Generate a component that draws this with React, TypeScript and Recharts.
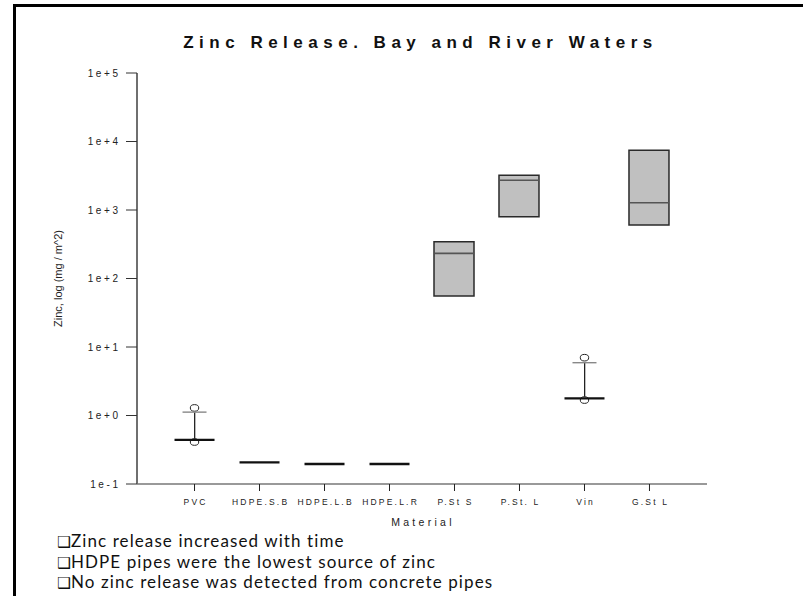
import React from 'react';
import { ComposedChart, Bar, Scatter, XAxis, YAxis, Label } from 'recharts';

// ---- data ----
const categories = ['PVC', 'HDPE.S.B', 'HDPE.L.B', 'HDPE.L.R', 'P.St S', 'P.St. L', 'Vin', 'G.St L'];
const positions = [1, 2, 3, 4, 5, 6, 7, 8];
const boxLow: (number | null)[] = [null, null, null, null, 55.6, 798, null, 604];
const boxHigh: (number | null)[] = [null, null, null, null, 344, 3214, null, 7430];
const medians = [0.44, 0.207, 0.196, 0.196, 233, 2716, 1.78, 1279];
const whiskerHigh: (number | null)[] = [1.12, null, null, null, null, null, 5.9, null];
const outlierHigh: (number | null)[] = [1.29, null, null, null, null, null, 6.98, null];
const outlierLow: (number | null)[] = [0.41, null, null, null, null, null, 1.68, null];
const yTicks = [0.1, 1, 10, 100, 1000, 10000, 100000];
const yTickLabels = ['1e-1', '1e+0', '1e+1', '1e+2', '1e+3', '1e+4', '1e+5'];
const title = 'Zinc Release. Bay and River Waters';
const xTitle = 'Material';
const yTitle = 'Zinc, log (mg / m^2)';
const bullets = [
  'Zinc release increased with time',
  'HDPE pipes were the lowest source of zinc',
  'No zinc release was detected from concrete pipes',
];

const rows = positions.map((x, i) => ({
  x,
  name: categories[i],
  box: boxLow[i] != null && boxHigh[i] != null ? [boxLow[i], boxHigh[i]] : null,
  stem: whiskerHigh[i] != null ? [medians[i], whiskerHigh[i]] : null,
  median: medians[i],
  hasBox: boxLow[i] != null,
  cap: whiskerHigh[i],
  outHi: outlierHigh[i],
  outLo: outlierLow[i],
}));

const capRows = rows.filter((r) => r.cap != null);
const outHiRows = rows.filter((r) => r.outHi != null);
const outLoRows = rows.filter((r) => r.outLo != null);

const X_DOMAIN: [number, number] = [0.115, 8.885];
const Y_DOMAIN: [number, number] = [0.1, 100000];
const FONT = '"Liberation Sans", Arial, sans-serif';

const YTick = (props: any) => {
  const { x, y, payload } = props;
  const idx = yTicks.indexOf(payload.value);
  const label = idx >= 0 ? yTickLabels[idx] : String(payload.value);
  return (
    <text x={x + 2.6} y={y} dy="0.35em" textAnchor="end" fontSize={10} fontFamily={FONT} fill="#222" letterSpacing={2.6}>
      {label}
    </text>
  );
};

const XTick = (props: any) => {
  const { x, y, payload } = props;
  const idx = positions.indexOf(payload.value);
  const label = idx >= 0 ? categories[idx] : '';
  return (
    <text x={x + 1.1} y={y} dy="0.71em" textAnchor="middle" fontSize={8.5} fontFamily={FONT} fill="#222" letterSpacing={2.2}>
      {label}
    </text>
  );
};

const MedianShape = (props: any) => {
  const { cx, cy, payload } = props;
  if (cx == null || cy == null) return null;
  if (payload.hasBox) {
    return <line x1={cx - 19.5} x2={cx + 19.5} y1={cy} y2={cy} stroke="#555" strokeWidth={1.6} />;
  }
  return <line x1={cx - 20} x2={cx + 20} y1={cy} y2={cy} stroke="#111" strokeWidth={2.4} />;
};

const CapShape = (props: any) => {
  const { cx, cy } = props;
  if (cx == null || cy == null) return null;
  return <line x1={cx - 12} x2={cx + 12} y1={cy} y2={cy} stroke="#888" strokeWidth={1.4} />;
};

const OutlierShape = (props: any) => {
  const { cx, cy } = props;
  if (cx == null || cy == null) return null;
  return <ellipse cx={cx} cy={cy} rx={4.2} ry={3.3} fill="#fff" stroke="#222" strokeWidth={1} />;
};

const YTitle = (props: any) => {
  const { viewBox } = props;
  const cx = viewBox.x + 38;
  const cy = viewBox.y + viewBox.height / 2;
  return (
    <text x={cx} y={cy} transform={`rotate(-90 ${cx} ${cy})`} textAnchor="middle" dy="0.35em" fontSize={11} fontFamily={FONT} fill="#222">
      {yTitle}
    </text>
  );
};

const XTitle = (props: any) => {
  const { viewBox } = props;
  const cx = viewBox.x + viewBox.width / 2 + 1;
  return (
    <text x={cx} y={viewBox.y + 42} textAnchor="middle" fontSize={10.5} fontFamily={FONT} fill="#222" letterSpacing={3.3}>
      {xTitle}
    </text>
  );
};

export default function App() {
  return (
    <div style={{ position: 'absolute', left: 0, top: 0, width: 803, height: 596, background: '#fff', overflow: 'hidden' }}>
      <div style={{ position: 'absolute', left: 13, top: 4, width: 790, height: 3, background: '#000' }} />
      <div style={{ position: 'absolute', left: 13, top: 4, width: 3, height: 592, background: '#000' }} />
      <div
        style={{
          position: 'absolute',
          left: 0,
          top: 33,
          width: 836,
          textAlign: 'center',
          fontFamily: FONT,
          fontWeight: 'bold',
          fontSize: 17,
          lineHeight: '20px',
          letterSpacing: 5.5,
          color: '#111',
          paddingLeft: 5,
          boxSizing: 'border-box',
        }}
      >
        {title}
      </div>
      <div style={{ position: 'absolute', left: 0, top: 0 }}>
        <ComposedChart
          width={803}
          height={596}
          data={rows}
          margin={{ top: 73, right: 96, bottom: 72, left: 20 }}
        >
          <XAxis
            xAxisId="main"
            dataKey="x"
            type="number"
            domain={X_DOMAIN}
            ticks={positions}
            allowDataOverflow
            height={40}
            tick={<XTick />}
            tickSize={7}
            tickMargin={8}
            tickLine={{ stroke: '#222', strokeWidth: 1 }}
            axisLine={{ stroke: '#777', strokeWidth: 1.6 }}
            interval={0}
          >
            <Label content={<XTitle />} />
          </XAxis>
          <XAxis xAxisId="whisk" dataKey="x" type="number" domain={X_DOMAIN} allowDataOverflow hide />
          <XAxis
            xAxisId="top"
            orientation="top"
            dataKey="x"
            type="number"
            domain={X_DOMAIN}
            allowDataOverflow
            height={0}
            tick={false}
            tickLine={false}
            axisLine={{ stroke: '#222', strokeWidth: 1.5 }}
          />
          <YAxis
            yAxisId="left"
            scale="log"
            type="number"
            domain={Y_DOMAIN}
            ticks={yTicks}
            allowDataOverflow
            width={117}
            tick={<YTick />}
            tickSize={11}
            tickMargin={8}
            tickLine={{ stroke: '#333', strokeWidth: 1 }}
            axisLine={{ stroke: '#6f6f6f', strokeWidth: 2 }}
            interval={0}
          >
            <Label content={<YTitle />} />
          </YAxis>
          <YAxis
            yAxisId="right"
            orientation="right"
            scale="log"
            type="number"
            domain={Y_DOMAIN}
            allowDataOverflow
            width={0}
            tick={false}
            tickLine={false}
            axisLine={{ stroke: '#111', strokeWidth: 1.5 }}
          />
          <Bar
            xAxisId="main"
            yAxisId="left"
            dataKey="box"
            barSize={40}
            fill="#c0c0c0"
            stroke="#2a2a2a"
            strokeWidth={1.5}
            isAnimationActive={false}
          />
          <Bar
            xAxisId="whisk"
            yAxisId="left"
            dataKey="stem"
            barSize={1.3}
            fill="#222"
            isAnimationActive={false}
          />
          <Scatter xAxisId="main" yAxisId="left" data={outHiRows} dataKey="outHi" shape={<OutlierShape />} isAnimationActive={false} />
          <Scatter xAxisId="main" yAxisId="left" data={outLoRows} dataKey="outLo" shape={<OutlierShape />} isAnimationActive={false} />
          <Scatter xAxisId="main" yAxisId="left" data={capRows} dataKey="cap" shape={<CapShape />} isAnimationActive={false} />
          <Scatter xAxisId="main" yAxisId="left" data={rows} dataKey="median" shape={<MedianShape />} isAnimationActive={false} />
        </ComposedChart>
      </div>
      {bullets.map((b, i) => (
        <div
          key={i}
          style={{
            position: 'absolute',
            left: 57,
            top: 531 + i * 20.5,
            fontFamily: 'Lato, "Open Sans", sans-serif',
            fontSize: 17,
            lineHeight: '20px',
            height: 20,
            letterSpacing: 1.1,
            color: '#111',
            whiteSpace: 'nowrap',
          }}
        >
          <span style={{ fontFamily: '"DejaVu Sans"', fontSize: 15.5, letterSpacing: 0 }}>❑</span>
          {b}
        </div>
      ))}
    </div>
  );
}
